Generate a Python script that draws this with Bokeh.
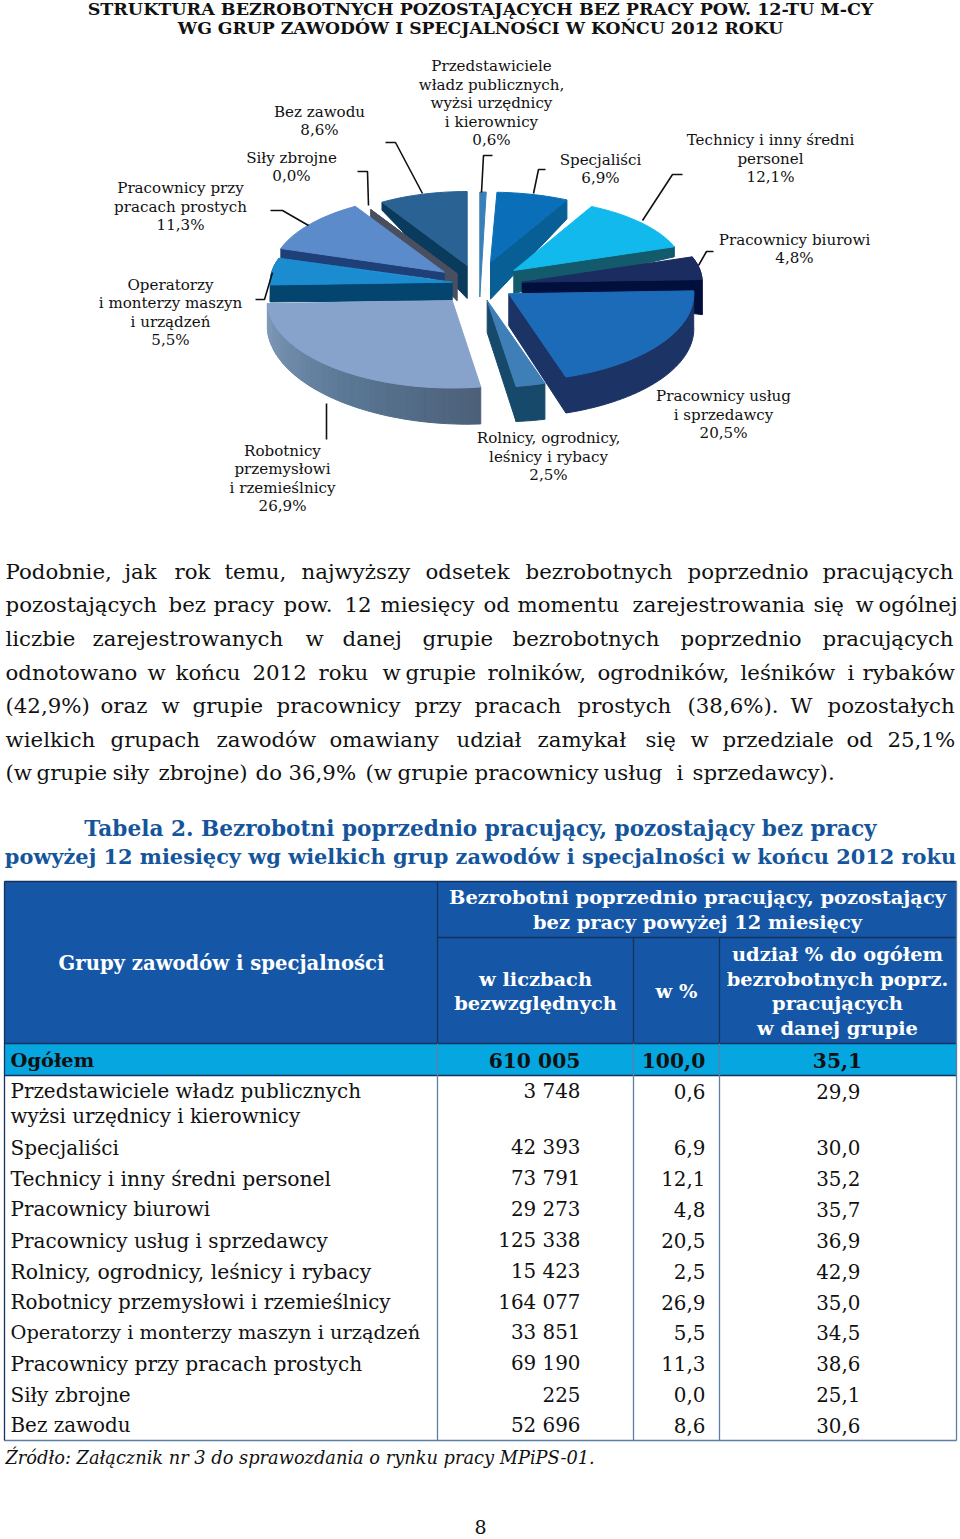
import math
from bokeh.plotting import figure
from bokeh.models import Range1d
from bokeh.core.properties import value
from bokeh.embed import file_html
from bokeh.resources import INLINE

# ---------- DATA ----------
groups = ["Przedstawiciele władz publicznych", "Specjaliści", "Technicy i inny średni personel",
          "Pracownicy biurowi", "Pracownicy usług i sprzedawcy", "Rolnicy, ogrodnicy, leśnicy i rybacy",
          "Robotnicy przemysłowi i rzemieślnicy", "Operatorzy i monterzy maszyn i urządzeń",
          "Pracownicy przy pracach prostych", "Siły zbrojne", "Bez zawodu"]
counts = [3748, 42393, 73791, 29273, 125338, 15423, 164077, 33851, 69190, 225, 52696]
count_labels = ["3 748", "42 393", "73 791", "29 273", "125 338", "15 423", "164 077", "33 851", "69 190", "225", "52 696"]
pct_labels = ["0,6", "6,9", "12,1", "4,8", "20,5", "2,5", "26,9", "5,5", "11,3", "0,0", "8,6"]
share_labels = ["29,9", "30,0", "35,2", "35,7", "36,9", "42,9", "35,0", "34,5", "38,6", "25,1", "30,6"]
total_labels = ["610 005", "100,0", "35,1"]

pie_label_lines = [
    ["Przedstawiciele", "władz publicznych,", "wyżsi urzędnicy", "i kierownicy", "0,6%"],
    ["Specjaliści", "6,9%"],
    ["Technicy i inny średni", "personel", "12,1%"],
    ["Pracownicy biurowi", "4,8%"],
    ["Pracownicy usług", "i sprzedawcy", "20,5%"],
    ["Rolnicy, ogrodnicy,", "leśnicy i rybacy", "2,5%"],
    ["Robotnicy", "przemysłowi", "i rzemieślnicy", "26,9%"],
    ["Operatorzy", "i monterzy maszyn", "i urządzeń", "5,5%"],
    ["Pracownicy przy", "pracach prostych", "11,3%"],
    ["Siły zbrojne", "0,0%"],
    ["Bez zawodu", "8,6%"],
]
title_lines = ["STRUKTURA BEZROBOTNYCH POZOSTAJĄCYCH BEZ PRACY POW. 12-TU M-CY",
               "WG GRUP ZAWODÓW I SPECJALNOŚCI W KOŃCU 2012 ROKU"]
paragraph = [
    "Podobnie, jak rok temu, najwyższy odsetek bezrobotnych poprzednio pracujących",
    "pozostających bez pracy pow. 12 miesięcy od momentu zarejestrowania się w ogólnej",
    "liczbie zarejestrowanych w danej grupie bezrobotnych poprzednio pracujących",
    "odnotowano w końcu 2012 roku w grupie rolników, ogrodników, leśników i rybaków",
    "(42,9%) oraz w grupie pracownicy przy pracach prostych (38,6%). W pozostałych",
    "wielkich grupach zawodów omawiany udział zamykał się w przedziale od 25,1%",
    "(w grupie siły zbrojne) do 36,9% (w grupie pracownicy usług i sprzedawcy).",
]
table_title = ["Tabela 2. Bezrobotni poprzednio pracujący, pozostający bez pracy",
               "powyżej 12 miesięcy wg wielkich grup zawodów i specjalności w końcu 2012 roku"]
source_note = "Źródło: Załącznik nr 3 do sprawozdania o rynku pracy MPiPS-01."
page_number = "8"

# ---------- LAYOUT / STYLE ----------
SERIF = "DejaVu Serif"
word_x = [
    [5, 124, 174, 224, 301, 425, 525, 687, 822],
    [5, 168, 213, 283, 344, 380, 483, 517, 632, 813, 855, 878],
    [5, 92, 305, 342, 422, 512, 680, 822],
    [5, 147, 175, 252, 318, 382, 405, 487, 597, 740, 847, 862],
    [5, 100, 161, 192, 276, 414, 474, 577, 687, 790, 827],
    [5, 110, 216, 329, 456, 537, 645, 690, 722, 846, 887],
    [5, 36, 112, 158, 255, 288, 365, 397, 474, 603, 676, 692],
]
para_y = [571, 604, 638, 672, 705, 739, 772]
HEAD = "#1557a6"
CYAN = "#06a6e0"
GRID = "#5c7fa6"

p = figure(width=960, height=1539, x_range=Range1d(0, 960), y_range=Range1d(1539, 0),
           output_backend="svg", toolbar_location=None, min_border=0)
p.axis.visible = False
p.grid.visible = False
p.outline_line_color = None


def txt(x, y, s, size, align="left", style="normal", color="#111111"):
    p.text([x], [y], text=[s], text_font=value(SERIF), text_font_size=f"{size}px",
           text_font_style=style, text_align=align, text_baseline="middle", text_color=color)


def rect(x0, y0, x1, y1, color):
    p.quad(left=[x0], right=[x1], top=[y0], bottom=[y1], fill_color=color, line_color=None)


def hv(xs, ys, color=GRID, w=1.3):
    p.line(xs, ys, line_color=color, line_width=w)


# ---------- PIE ----------
total = sum(counts)
angles = []
c = 0
for v in counts:
    angles.append((c / total * 360, (c + v) / total * 360))
    c += v

# per-slice projection: apex x, apex y, rx, ry, apex depth, depth at arc start, depth at arc end
slices = {
    0: dict(a=(479.3, 296.5), r=(167, 105), d=(0, 0, 0), top="#3a80b8", side="#3a80b8", walls=""),
    10: dict(a=(466.7, 265), r=(165, 74), d=(33, 8, 8), top="#2b6294", side="#0a3a5c", walls="s"),
    9: dict(a=(456.7, 273.3), r=(167, 75), d=(27, 7, 7), top="#4a4f60", side="#4a4f60", walls="s"),
    1: dict(a=(490, 261.7), r=(167, 70), d=(37, 19, 19), top="#0a6fb8", side="#085f95", walls="e"),
    2: dict(a=(513.3, 270), r=(170, 72), d=(23, 10, 10), top="#11b9ec", side="#135a6d", walls="e"),
    3: dict(a=(521.7, 281.7), r=(180, 77), d=(12, 35, 35), top="#1b2c60", side="#010f3d", walls="eo"),
    8: dict(a=(444, 271.7), r=(172, 77), d=(8, 10, 10), top="#5b8bcb", side="#1e3f78", walls="s"),
    7: dict(a=(451.7, 281.7), r=(182, 78), d=(18, 17, 17), top="#1a8ccf", side="#03456f", walls="so"),
    6: dict(a=(451.7, 300), r=(185, 87.5), d=(0, 37, 25), top="#87a3cb", side=None, walls="o"),
    4: dict(a=(508.3, 293.3), r=(185, 87.5), d=(32, 35, 36), top="#1c6bb9", side="#1b3365", walls="eo"),
    5: dict(a=(486.7, 300), r=(187, 87), d=(32, 36, 35), top="#3f7fb8", side="#16496a", walls="eo"),
}
rob_side_stops = [(0.0, (77, 96, 121)), (0.45, (90, 120, 150)), (1.0, (130, 155, 185))]


def lerp_color(t):
    for (t0, c0), (t1, c1) in zip(rob_side_stops, rob_side_stops[1:]):
        if t <= t1:
            f = (t - t0) / (t1 - t0)
            return "#%02x%02x%02x" % tuple(int(c0[i] + (c1[i] - c0[i]) * f) for i in range(3))
    return "#8299b9"


def fill_poly(xs, ys, color):
    p.patch(xs, ys, fill_color=color, line_color=color, line_width=1)


for idx in [0, 10, 9, 1, 2, 3, 8, 7, 6, 4, 5]:
    s = slices[idx]
    t0, t1 = angles[idx]
    ax, ay = s["a"]
    rx, ry = s["r"]
    da, ds, de = s["d"]
    n = max(2, int((t1 - t0) / 2) + 2)
    th = [t0 + (t1 - t0) * i / (n - 1) for i in range(n)]
    px = [ax + rx * math.sin(math.radians(t)) for t in th]
    py = [ay - ry * math.cos(math.radians(t)) for t in th]
    dep = [ds + (de - ds) * i / (n - 1) for i in range(n)]
    if "s" in s["walls"]:
        fill_poly([ax, px[0], px[0], ax], [ay, py[0], py[0] + ds, ay + da], s["side"])
    if "e" in s["walls"]:
        fill_poly([ax, px[-1], px[-1], ax], [ay, py[-1], py[-1] + de, ay + da], s["side"])
    if "o" in s["walls"]:
        if s["side"]:
            fill_poly(px + px[::-1], py + [y + d for y, d in zip(py[::-1], dep[::-1])], s["side"])
        else:
            for i in range(n - 1):
                fill_poly([px[i], px[i + 1], px[i + 1], px[i]],
                          [py[i], py[i + 1], py[i + 1] + dep[i + 1], py[i] + dep[i]],
                          lerp_color(i / (n - 2)))
    fill_poly([ax] + px, [ay] + py, s["top"])

# leader lines
leader_paths = [
    ([492, 483, 481], [155, 155, 192]),
    ([545, 538, 533], [169, 169, 193]),
    ([682, 672, 642], [174, 174, 220]),
    ([713, 706, 698], [251, 251, 265]),
    ([326, 326], [403, 439]),
    ([255, 264, 272], [299, 299, 272]),
    ([270, 282, 308], [210, 210, 225]),
    ([357, 367, 368], [171, 171, 205]),
    ([385, 395, 422], [142, 142, 193]),
]
for xs, ys in leader_paths:
    p.line(xs, ys, line_color="#111111", line_width=1.6)

# pie labels
label_pos = [(491, 65.5, 18.5), (600, 159.5, 18), (770, 139.5, 18.5), (794, 239.5, 18), (723, 395.5, 18.5),
             (548, 437.5, 18.5), (282, 450.5, 18.3), (170, 284.5, 18.3), (180, 187.5, 18.5), (291, 157.5, 18), (319, 111.5, 18)]
for lines, (x, y0, dy) in zip(pie_label_lines, label_pos):
    for i, line in enumerate(lines):
        txt(x, y0 + i * dy, line, 15.1, "center")

for s, y, size in zip(title_lines, [8, 27], [17.5, 17.2]):
    txt(480, y, s, size, "center", "bold")

# paragraph (justified word by word)
for line, xs, y in zip(paragraph, word_x, para_y):
    for w, x in zip(line.split(" "), xs):
        txt(x, y, w, 21.3)

for s, y, size in zip(table_title, [828, 856], [21.6, 20.9]):
    txt(480, y, s, size, "center", "bold", "#14559c")

# ---------- TABLE ----------
COLS = [4, 437, 633, 719, 956]
rect(COLS[0], 881, COLS[4], 1043, HEAD)
rect(COLS[0], 1043, COLS[4], 1075, CYAN)
DARK = "#16315c"
hv([COLS[0], COLS[4]], [881, 881], DARK)
hv([COLS[1], COLS[4]], [937, 937], DARK)
hv([COLS[0], COLS[4]], [1043, 1043], DARK)
hv([COLS[0], COLS[4]], [1075, 1075], DARK)
hv([COLS[0], COLS[4]], [1440, 1440], GRID, 1.6)
hv([COLS[0], COLS[0]], [881, 1440], DARK)
hv([COLS[4], COLS[4]], [881, 1440], GRID)
hv([COLS[1], COLS[1]], [881, 1043], DARK)
hv([COLS[1], COLS[1]], [1043, 1440], GRID)
for cx in COLS[2:4]:
    hv([cx, cx], [937, 1043], DARK)
    hv([cx, cx], [1043, 1440], GRID)

W = "#ffffff"
HS = 19.4
txt(221, 963, "Grupy zawodów i specjalności", 19.6, "center", "bold", W)
txt(697, 897, "Bezrobotni poprzednio pracujący, pozostający", HS, "center", "bold", W)
txt(697, 922, "bez pracy powyżej 12 miesięcy", HS, "center", "bold", W)
txt(535, 979, "w liczbach", HS, "center", "bold", W)
txt(535, 1003, "bezwzględnych", HS, "center", "bold", W)
txt(676, 991, "w %", HS, "center", "bold", W)
for s, y in zip(["udział % do ogółem", "bezrobotnych poprz.", "pracujących", "w danej grupie"], [954, 979, 1003, 1028]):
    txt(837, y, s, HS, "center", "bold", W)

txt(10, 1060, "Ogółem", 19.4, "left", "bold")
for s, x in zip(total_labels, [534, 673, 837]):
    txt(x, 1060, s, 20.3, "center", "bold")

row_sizes = [19.9, 20, 20.3, 19.9, 20, 20.4, 19.9, 19.4, 20.1, 20, 19.9]
row_y = [1091, 1147, 1178, 1209, 1240, 1271, 1302, 1332, 1363, 1394, 1425]
for i, (y, size) in enumerate(zip(row_y, row_sizes)):
    if i == 0:
        txt(10, y, "Przedstawiciele władz publicznych", size)
        txt(10, 1116, "wyżsi urzędnicy i kierownicy", size)
    else:
        txt(10, y, groups[i], size)
    txt(580, y, count_labels[i], 19.9, "right")
    txt(705, y, pct_labels[i], 19.9, "right")
    txt(860, y, share_labels[i], 19.9, "right")

txt(5, 1457, source_note, 17.8, "left", "italic")
txt(480, 1526.5, page_number, 19, "center")

open("out.html", "w").write(file_html(p, INLINE))
